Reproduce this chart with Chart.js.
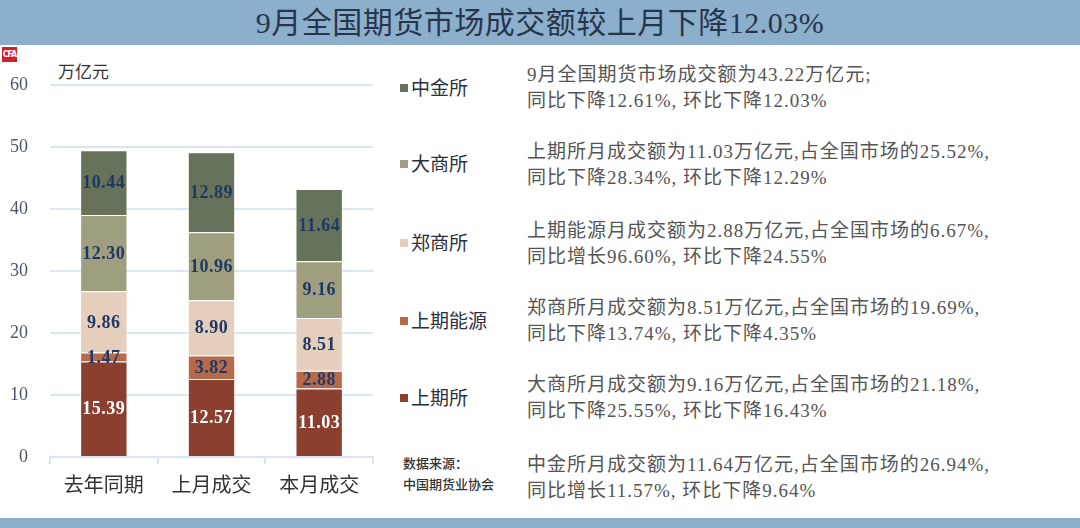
<!DOCTYPE html>
<html>
<head>
<meta charset="utf-8">
<script src="https://cdn.jsdelivr.net/npm/chart.js@4.4.1/dist/chart.umd.min.js"></script>
<style>
    html, body { margin: 0; padding: 0; background: #fff; }
    body { width: 1080px; height: 528px; position: relative; overflow: hidden; font-family: 'Noto Sans CJK SC', sans-serif; }
    .topbar { position: absolute; left: 0; top: 0; width: 1080px; height: 45px; background: #8cb0cc; }
    .topbar h1 { margin: 0; text-align: center; font-weight: normal; font-size: 30px; line-height: 45px; color: #27344d;
                 letter-spacing: 0.5px; font-family: 'Liberation Serif', 'Noto Sans CJK SC', serif; }
    .bottombar { position: absolute; left: 0; top: 518px; width: 1080px; height: 10px; background: #8cb0cc; }
    .logo { position: absolute; left: 2px; top: 47px; width: 15px; height: 15px; background: #d1202a; color: #fff;
            font: bold 8px 'DejaVu Sans', sans-serif; line-height: 15px; text-align: center; letter-spacing: -1px; }
    .unit { position: absolute; left: 58px; top: 58px; font-size: 17px; color: #333; }
    #wrap { position: absolute; left: 0; top: 46px; width: 380px; height: 472px; }
    .legend { position: absolute; left: 400px; top: 0; }
    .legend div { position: absolute; white-space: nowrap; font-size: 19px; color: #2b3040; line-height: 24px; }
    .legend span { display: inline-block; width: 8px; height: 8px; margin-right: 3px; vertical-align: 3px; }
    .source { position: absolute; left: 403px; top: 452px; font-size: 13px; line-height: 21px; color: #333; font-weight: 500; }
    .notes { position: absolute; left: 527px; top: 0; }
    .notes div { position: absolute; white-space: nowrap; font-size: 19px; letter-spacing: 1px; line-height: 26px; color: #555;
                 font-family: 'Liberation Serif', 'Noto Sans CJK SC', serif; }
</style>
</head>
<body>
<div class="topbar"><h1>9月全国期货市场成交额较上月下降12.03%</h1></div>
<div class="logo">CFA</div>
<div class="unit">万亿元</div>
<div id="wrap"><canvas id="c"></canvas></div>
<div class="legend" id="legend"></div>
<div class="source">数据来源：<br>中国期货业协会</div>
<div class="notes" id="notes"></div>
<div class="bottombar"></div>

<script>
// ─── Data ───
const categories = ['去年同期', '上月成交', '本月成交'];
const seriesNames = ['上期所', '上期能源', '郑商所', '大商所', '中金所'];
const seriesColors = ['#8b3f2f', '#b8694a', '#e6cebc', '#9f9f80', '#67725a'];
const labelColors = ['#ffffff', '#1f3864', '#1f3864', '#1f3864', '#1f3864'];

const shfe = [15.39, 12.57, 11.03];
const ine = [1.47, 3.82, 2.88];
const czce = [9.86, 8.90, 8.51];
const dce = [12.30, 10.96, 9.16];
const cffex = [10.44, 12.89, 11.64];
const seriesValues = [shfe, ine, czce, dce, cffex];

const yTicks = [0, 10, 20, 30, 40, 50, 60];

const noteLines = [
    ['9月全国期货市场成交额为43.22万亿元;', '同比下降12.61%, 环比下降12.03%'],
    ['上期所月成交额为11.03万亿元,占全国市场的25.52%,', '同比下降28.34%, 环比下降12.29%'],
    ['上期能源月成交额为2.88万亿元,占全国市场的6.67%,', '同比增长96.60%, 环比下降24.55%'],
    ['郑商所月成交额为8.51万亿元,占全国市场的19.69%,', '同比下降13.74%, 环比下降4.35%'],
    ['大商所月成交额为9.16万亿元,占全国市场的21.18%,', '同比下降25.55%, 环比下降16.43%'],
    ['中金所月成交额为11.64万亿元,占全国市场的26.94%,', '同比增长11.57%, 环比下降9.64%']
];

// ─── Legend (top to bottom = last series first) ───
const legendEl = document.getElementById('legend');
const legendTops = [75, 151, 230, 308, 385];
seriesNames.slice().reverse().forEach((name, i) => {
    const idx = seriesNames.length - 1 - i;
    const d = document.createElement('div');
    d.style.top = legendTops[i] + 'px';
    d.innerHTML = '<span style="background:' + seriesColors[idx] + '"></span>' + name;
    legendEl.appendChild(d);
});

// ─── Notes ───
const notesEl = document.getElementById('notes');
const noteTops = [62, 139, 218, 295, 372, 452];
noteLines.forEach((lines, i) => {
    lines.forEach((t, j) => {
        const d = document.createElement('div');
        d.style.top = (noteTops[i] + j * 26) + 'px';
        d.textContent = t;
        notesEl.appendChild(d);
    });
});

// ─── Value labels inside segments ───
const valueLabels = {
    id: 'valueLabels',
    afterDatasetsDraw(chart) {
        const ctx = chart.ctx;
        ctx.save();
        ctx.font = 'bold 18px "Liberation Serif", serif';
        ctx.textAlign = 'center';
        ctx.textBaseline = 'middle';
        if ('letterSpacing' in ctx) ctx.letterSpacing = '0.5px';
        chart.data.datasets.forEach((ds, di) => {
            const meta = chart.getDatasetMeta(di);
            meta.data.forEach((bar, i) => {
                ctx.fillStyle = labelColors[di];
                ctx.fillText(ds.data[i].toFixed(2), bar.x, (bar.y + bar.base) / 2 + 1);
            });
        });
        ctx.restore();
    }
};

const gridColor = '#dce6f2';

new Chart(document.getElementById('c'), {
    type: 'bar',
    data: {
        labels: categories,
        datasets: seriesNames.map((name, i) => ({
            label: name,
            data: seriesValues[i],
            backgroundColor: seriesColors[i],
            borderColor: 'rgba(255,255,255,0.45)',
            borderWidth: 1,
            barPercentage: 0.44,
            categoryPercentage: 1
        }))
    },
    options: {
        responsive: true, maintainAspectRatio: false,
        animation: false,
        layout: { padding: { top: 39, right: 7, left: 0, bottom: 0 } },
        plugins: { legend: { display: false }, tooltip: { enabled: false } },
        scales: {
            x: {
                stacked: true,
                grid: { offset: true, drawOnChartArea: false, drawTicks: true, tickLength: 7, color: gridColor, lineWidth: 2 },
                border: { color: gridColor, width: 2 },
                ticks: { color: '#333', padding: 8, font: { family: 'Noto Sans CJK SC', size: 20 } },
                afterFit: s => { s.height = 61; }
            },
            y: {
                stacked: true,
                min: 0, max: 60,
                afterBuildTicks: s => { s.ticks = yTicks.map(v => ({ value: v })); },
                grid: { color: gridColor, lineWidth: 2, drawTicks: false },
                border: { display: false },
                ticks: { color: '#4d5566', padding: 22, font: { family: 'Liberation Serif', size: 18 } },
                afterFit: s => { s.width = 50; }
            }
        }
    },
    plugins: [valueLabels]
});
</script>
</body>
</html>
